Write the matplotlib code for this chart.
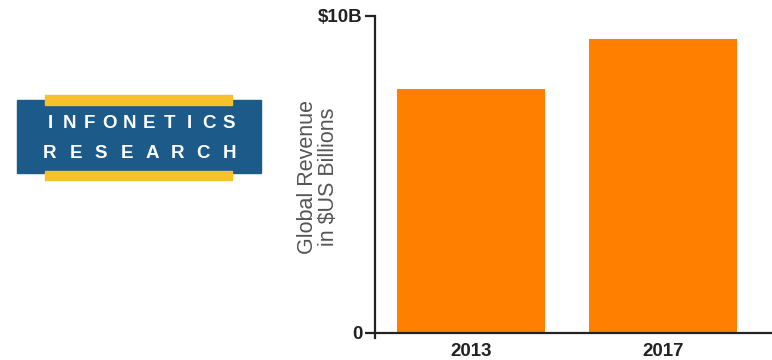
import matplotlib.pyplot as plt
from matplotlib.patches import Rectangle

# data
years = ['2013', '2017']
revenue = [7.7, 9.27]   # $US billions
y_ticks = [0, 10]
y_tick_labels = ['0', '$10B']

plt.rcParams['font.family'] = ['Liberation Sans', 'DejaVu Sans']

fig = plt.figure(figsize=(7.72, 3.6), dpi=100)

# chart area (0 sits at y=333 px, 10B at y=16 px)
ax = fig.add_axes([375/772, 1-338/360, 1-375/772, (338-16)/360])
ax.bar(range(len(years)), revenue, width=0.77, color='#ff8000', zorder=1)
ax.set_xlim(-0.5, 1.567)
ax.set_ylim(-0.16, 10)
ax.spines['top'].set_visible(False)
ax.spines['right'].set_visible(False)
ax.spines['bottom'].set_position(('data', 0))
ax.spines['bottom'].set_linewidth(1.6)
ax.spines['left'].set_linewidth(1.6)
ax.spines['bottom'].set_color('#222222')
ax.spines['left'].set_color('#222222')
ax.spines['bottom'].set_zorder(3)
ax.set_yticks(y_ticks)
ax.set_yticklabels(y_tick_labels, fontsize=13.5, fontweight='bold', color='#222222')
ax.tick_params(axis='y', direction='out', length=7, width=1.6, color='#222222', pad=2)
ax.set_xticks(range(len(years)))
ax.set_xticklabels(years, fontsize=13.5, fontweight='bold', color='#222222')
ax.tick_params(axis='x', length=0, pad=7)

fig.text(318/772, 1-177/360, 'Global Revenue\nin $US Billions', rotation=90,
         ha='center', va='center', fontsize=15.5, color='#555555', linespacing=1.0)

# logo
logo = fig.add_axes([0, 0, 1, 1], zorder=-1)
logo.set_xlim(0, 772)
logo.set_ylim(360, 0)
logo.axis('off')
logo.add_patch(Rectangle((17, 100), 244, 73, color='#1b5a89'))
logo.add_patch(Rectangle((45, 95), 187, 10, color='#f7c12c'))
logo.add_patch(Rectangle((45, 171), 187, 9, color='#f7c12c'))
for word, yy in [('INFONETICS', 124), ('RESEARCH', 153)]:
    n = len(word)
    for i, ch in enumerate(word):
        xx = 50 + i * (229 - 50) / (n - 1)
        logo.text(xx, yy, ch, color='white', fontsize=13.5, fontweight='bold',
                  ha='center', va='center')

fig.savefig('out.png', dpi=100)
